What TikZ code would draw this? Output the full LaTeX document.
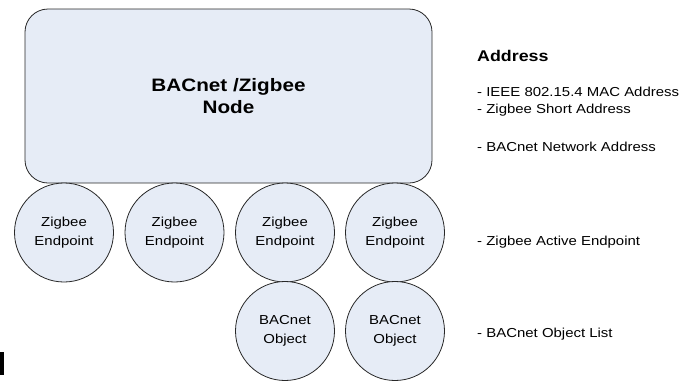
\documentclass[tikz,border=0pt]{standalone}
\usepackage{fontspec}
\setmainfont{Liberation Sans}[FakeStretch=1.15]
\usepackage{tikz}
\usepackage{xcolor}
\definecolor{nodefill}{RGB}{230,236,246}
\definecolor{nodeline}{RGB}{40,40,40}

\begin{document}
\begin{tikzpicture}[x=1pt, y=-1pt,
    blob/.style={draw=nodeline, line width=0.8pt, fill=nodefill, circle, minimum size=99pt, inner sep=0pt, align=center, font=\fontsize{13}{19}\selectfont},
    note/.style={anchor=west, inner sep=0pt, font=\fontsize{13}{18}\selectfont}]
  \useasboundingbox (0,0) rectangle (695,381);

  % Nodes
  \node[draw=nodeline, line width=0.8pt, fill=nodefill, rounded corners=23pt, minimum width=407pt, minimum height=174pt, align=center, font=\fontsize{18}{22}\selectfont\bfseries] (bz) at (228.5, 96) {BACnet /Zigbee\\Node};

  \node[blob] (ep1) at (64, 232.5) {Zigbee\\Endpoint};
  \node[blob] (ep2) at (174.5, 232.5) {Zigbee\\Endpoint};
  \node[blob] (ep3) at (285, 232.5) {Zigbee\\Endpoint};
  \node[blob] (ep4) at (395, 232.5) {Zigbee\\Endpoint};

  \node[blob] (ob1) at (285, 331) {BACnet\\Object};
  \node[blob] (ob2) at (395, 331) {BACnet\\Object};

  % Address list
  \node[note, font=\fontsize{15.5}{18}\selectfont\bfseries] (addr) at (477, 56) {Address};
  \node[note] (mac) at (477, 92) {- IEEE 802.15.4 MAC Address};
  \node[note] (short) at (477, 110) {- Zigbee Short Address};
  \node[note] (net) at (477, 147) {- BACnet Network Address};
  \node[note] (act) at (477, 242) {- Zigbee Active Endpoint};
  \node[note] (objl) at (477, 334) {- BACnet Object List};

  % stray mark
  \fill[black] (0,352) rectangle (3.5,375);
\end{tikzpicture}
\end{document}
